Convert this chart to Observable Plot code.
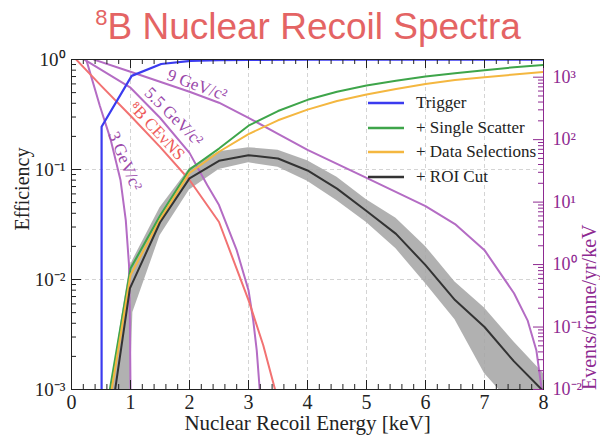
<!DOCTYPE html>
<html><head><meta charset="utf-8">
<script src="https://cdn.jsdelivr.net/npm/d3@7"></script>
<script src="https://cdn.jsdelivr.net/npm/@observablehq/plot@0.6"></script>
<style>
html,body{margin:0;padding:0;background:#fff;}
body{width:600px;height:438px;overflow:hidden;position:relative;}
#title{height:50px;text-align:center;padding-left:16px;box-sizing:border-box;position:relative;
  font-family:'Liberation Sans',Arial,sans-serif;font-size:37px;color:#e46464;white-space:nowrap;}
#title span{position:absolute;left:16px;right:0;top:5px;line-height:44px;}
#title sup{font-size:22px;vertical-align:0;position:relative;top:-14px;}
#chart svg{display:block;}
#legend{position:absolute;left:368px;top:91px;font-family:'Liberation Serif','Times New Roman',serif;font-size:17px;color:#222;}
#legend .row{height:24.5px;display:flex;align-items:center;}
#legend svg{margin-right:12px;}
</style></head><body>
<div id="title"><span><sup>8</sup>B Nuclear Recoil Spectra</span></div>
<div id="chart"></div>
<div id="legend"></div>
<script>
// ---------- data ----------
const xTicks = [0, 1, 2, 3, 4, 5, 6, 7, 8];
const effTicks = [0.001, 0.01, 0.1, 1];
const effTickLabels = ["10\u207B\u00B3", "10\u207B\u00B2", "10\u207B\u00B9", "10\u2070"];
const rateTicks = [0.01, 0.1, 1, 10, 100, 1000];
const rateTickLabels = ["10\u207B\u00B2", "10\u207B\u00B9", "10\u2070", "10\u00B9", "10\u00B2", "10\u00B3"];

// efficiency curves (left axis)
const triggerKeV = [0.51, 0.51, 1.02, 1.52, 2.02, 2.5, 3.0, 4.0, 5.0, 6.0, 7.0, 8.0];
const triggerEff = [0.0005, 0.245, 0.71, 0.91, 0.97, 0.985, 0.99, 0.995, 0.997, 0.998, 0.998, 0.998];

const scatterKeV = [0.65, 1.0, 1.5, 2.0, 2.5, 3.0, 3.5, 4.0, 4.5, 5.0, 5.5, 6.0, 6.5, 7.0, 7.5, 8.0];
const scatterEff = [0.001, 0.0126, 0.038, 0.10, 0.155, 0.25, 0.34, 0.43, 0.51, 0.58, 0.64, 0.70, 0.75, 0.80, 0.85, 0.89];

const selectKeV = [0.68, 1.0, 1.5, 2.0, 2.5, 3.0, 3.5, 4.0, 4.5, 5.0, 5.5, 6.0, 6.5, 7.0, 7.5, 8.0];
const selectEff = [0.001, 0.011, 0.035, 0.093, 0.145, 0.21, 0.28, 0.35, 0.42, 0.48, 0.54, 0.60, 0.65, 0.69, 0.73, 0.77];

const roiKeV = [0.74, 0.99, 1.5, 2.0, 2.5, 3.0, 3.5, 4.0, 4.5, 5.0, 5.5, 6.0, 6.5, 7.0, 7.5, 7.97];
const roiEff = [0.001, 0.0083, 0.033, 0.083, 0.12, 0.135, 0.126, 0.098, 0.067, 0.042, 0.026, 0.0135, 0.0065, 0.0037, 0.0018, 0.001];

const bandKeV = [0.66, 0.74, 0.85, 0.99, 1.04, 1.5, 2.0, 2.5, 3.0, 3.5, 4.0, 4.5, 5.0, 5.5, 6.0, 6.5, 7.0, 7.5, 8.0];
const bandLow = [0.001, 0.0008, 0.0006, 0.0008, 0.005, 0.025, 0.065, 0.10, 0.115, 0.105, 0.078, 0.052, 0.033, 0.019, 0.0092, 0.0043, 0.0014, 0.0007, 0.0005];
const bandHigh = [0.001, 0.0018, 0.0045, 0.013, 0.015, 0.045, 0.102, 0.145, 0.158, 0.15, 0.12, 0.085, 0.053, 0.036, 0.020, 0.0095, 0.0055, 0.0027, 0.0014];

// recoil spectra (right axis, Events/tonne/yr/keV)
const cevnsKeV = [0, 0.5, 1.0, 1.5, 2.0, 2.5, 3.0, 3.25, 3.45];
const cevnsRate = [2300, 731, 241, 76.6, 22.6, 4.8, 0.27, 0.051, 0.01];

const wimp3KeV = [0.2, 0.25, 0.48, 0.66, 0.83, 0.92, 0.975, 0.99, 1.0];
const wimp3Rate = [2710, 1910, 349, 103, 22.6, 5.16, 0.98, 0.128, 0.01];

const wimp55KeV = [0.22, 1.0, 1.5, 2.0, 2.3, 2.5, 2.8, 3.0, 3.08, 3.14, 3.19];
const wimp55Rate = [1910, 678, 224, 61.4, 18.8, 8.98, 1.70, 0.388, 0.128, 0.042, 0.01];

const wimp9KeV = [0.38, 1.0, 1.5, 2.0, 2.5, 3.0, 3.5, 4.0, 5.0, 6.0, 6.5, 7.0, 7.5, 7.73, 7.88, 7.97];
const wimp9Rate = [1910, 1225, 847, 585, 390, 224, 124, 68.6, 24.4, 8.65, 4.45, 1.70, 0.348, 0.128, 0.042, 0.01];

const curveLabelText = ["9 GeV/c\u00B2", "5.5 GeV/c\u00B2", "\u2078B CE\u03BDNS", "3 GeV/c\u00B2"];
const curveLabelKeV = [2.09, 1.65, 1.33, 0.80];
const curveLabelEff = [0.51, 0.273, 0.195, 0.113];
const curveLabelAngle = [20, 45, 47, 67];
const curveLabelSide = [7, 7, 10, 7]; // offset from curve toward upper-right, px

const legendLabels = ["Trigger", "+ Single Scatter", "+ Data Selections", "+ ROI Cut"];
const legendColors = ["#3b3bef", "#3ea54a", "#f4b740", "#333333"];

// ---------- build ----------
const RATE_TOP = 1919; // right axis top
const RATE_DECADES = Math.log10(RATE_TOP) + 2;
const toEff = r => Math.pow(10, -3 + (Math.log10(r) + 2) * 3 / RATE_DECADES);

const W = 600, H = 388, mL = 71, mR = 57, mT = 9, mB = 49;
const fw = W - mL - mR, fh = H - mT - mB;
const serif = "'Liberation Serif','Times New Roman',serif";
const purpleLine = "#b46cc4", purpleText = "#8e2a91", redLine = "#f27272";

const zip = (xs, ys) => xs.map((x, i) => ({x, y: ys[i]}));
const rateZip = (xs, rs) => xs.map((x, i) => ({x, y: toEff(rs[i])}));
const band = bandKeV.map((x, i) => ({x, lo: bandLow[i], hi: bandHigh[i]}));

const xMinor = d3.range(1, 40).map(i => i / 5).filter(v => Math.abs(v - Math.round(v)) > 1e-6);
const effMinor = [0.001, 0.01, 0.1].flatMap(d => [2,3,4,5,6,7,8,9].map(k => d * k));
const rateMinor = [0.01, 0.1, 1, 10, 100, 1000].flatMap(d => [2,3,4,5,6,7,8,9].map(k => d * k)).filter(v => v < RATE_TOP);

const labels = curveLabelText.map((t, i) => {
  const a = curveLabelAngle[i] * Math.PI / 180, o = curveLabelSide[i];
  return {t, x: curveLabelKeV[i], y: curveLabelEff[i], a: curveLabelAngle[i], dx: Math.sin(a) * o, dy: -Math.cos(a) * o};
});
const labelMarks = labels.map(d => Plot.text([d], {
  x: "x", y: "y", text: "t", rotate: "a", dx: d.dx, dy: d.dy,
  fill: d.t.includes("CE") ? "#ee5a5a" : "#9a48aa", fontSize: 17, fontFamily: serif
}));

const lineOpts = (stroke, w = 2) => ({x: "x", y: "y", stroke, strokeWidth: w, clip: true, curve: "linear"});

const chart = Plot.plot({
  width: W, height: H,
  marginLeft: mL, marginRight: mR, marginTop: mT, marginBottom: mB,
  x: {type: "linear", domain: [0, 8], axis: null},
  y: {type: "log", domain: [0.001, 1], axis: null},
  style: {background: "#fff", fontFamily: serif},
  marks: [
    Plot.ruleX([1, 2, 3, 4, 5, 6, 7], {x: d => d, stroke: "#d4d4d4", strokeDasharray: "4,3", strokeWidth: 1}),
    Plot.ruleY([0.1, 0.01], {y: d => d, stroke: "#d4d4d4", strokeDasharray: "4,3", strokeWidth: 1}),
    Plot.areaY(band, {x: "x", y1: "lo", y2: "hi", fill: "#a3a3a3", fillOpacity: 0.85, clip: true}),
    Plot.line(rateZip(wimp9KeV, wimp9Rate), lineOpts(purpleLine)),
    Plot.line(rateZip(wimp55KeV, wimp55Rate), lineOpts(purpleLine)),
    Plot.line(rateZip(wimp3KeV, wimp3Rate), lineOpts(purpleLine)),
    Plot.line(rateZip(cevnsKeV, cevnsRate), lineOpts(redLine)),
    Plot.line(zip(scatterKeV, scatterEff), lineOpts(legendColors[1])),
    Plot.line(zip(selectKeV, selectEff), lineOpts(legendColors[2])),
    Plot.line(zip(roiKeV, roiEff), lineOpts(legendColors[3])),
    Plot.line(zip(triggerKeV, triggerEff), lineOpts(legendColors[0], 2.2)),
    ...labelMarks,
    Plot.frame({stroke: "#222", strokeWidth: 1}),
    Plot.ruleX([8], {x: d => d, stroke: purpleText, strokeWidth: 1}),
    // x ticks bottom/top
    Plot.tickX(xTicks, {x: d => d, insetTop: fh - 9, stroke: "#222"}),
    Plot.tickX(xMinor, {x: d => d, insetTop: fh - 5, stroke: "#222"}),
    Plot.tickX(xTicks, {x: d => d, insetBottom: fh - 9, stroke: "#222"}),
    Plot.tickX(xMinor, {x: d => d, insetBottom: fh - 5, stroke: "#222"}),
    // left ticks
    Plot.tickY(effTicks, {y: d => d, insetRight: fw - 10, stroke: "#222"}),
    Plot.tickY(effMinor, {y: d => d, insetRight: fw - 5, stroke: "#222"}),
    // right ticks (rate)
    Plot.tickY(rateTicks, {y: d => toEff(d), insetLeft: fw - 10, stroke: purpleText}),
    Plot.tickY(rateMinor, {y: d => toEff(d), insetLeft: fw - 5, stroke: purpleText}),
    // tick labels
    Plot.text(xTicks, {x: d => d, frameAnchor: "bottom", dy: 19, text: d => String(d), fontSize: 20, fontFamily: serif, fill: "#222"}),
    Plot.text(effTicks, {y: d => d, frameAnchor: "left", dx: -6, textAnchor: "end", text: (d, i) => effTickLabels[i], fontSize: 19, fontFamily: serif, fill: "#222"}),
    Plot.text(rateTicks, {y: d => toEff(d), frameAnchor: "right", dx: 9, textAnchor: "start", text: (d, i) => rateTickLabels[i], fontSize: 18, fontFamily: serif, fill: purpleText}),
    // axis titles
    Plot.text(["Nuclear Recoil Energy [keV]"], {frameAnchor: "bottom", dy: 40, text: d => d, fontSize: 21, fontFamily: serif, fill: "#222"}),
    Plot.text(["Efficiency"], {frameAnchor: "left", dx: -49, dy: 6, rotate: -90, text: d => d, fontSize: 20, fontFamily: serif, fill: "#222"}),
    Plot.text(["Events/tonne/yr/keV"], {frameAnchor: "right", dx: 46, dy: 0, rotate: -90, text: d => d, fontSize: 20, fontFamily: serif, fill: purpleText})
  ]
});
document.getElementById("chart").appendChild(chart);

// legend
const leg = document.getElementById("legend");
legendLabels.forEach((lab, i) => {
  const row = document.createElement("div");
  row.className = "row";
  row.innerHTML = `<svg width="36" height="4"><line x1="0" y1="2" x2="36" y2="2" stroke="${legendColors[i]}" stroke-width="2.5"/></svg><span>${lab}</span>`;
  leg.appendChild(row);
});
</script>
</body></html>
